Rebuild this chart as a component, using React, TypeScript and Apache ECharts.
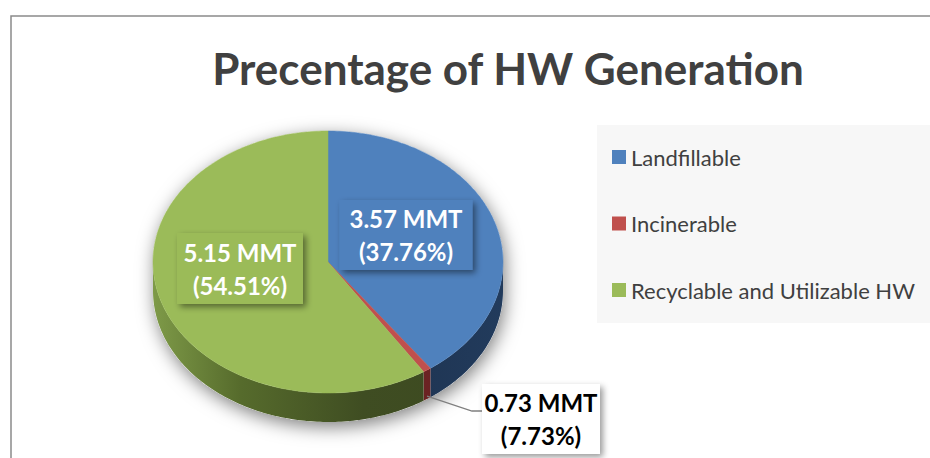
import React, { useEffect, useRef } from "react";
import * as echarts from "echarts";

// ---- data ----
const categories = ["Landfillable", "Incinerable", "Recyclable and Utilizable HW"];
// shares of the circle as drawn in the picture (percent)
const sliceShares = [40.05, 0.75, 59.2];
// values printed in the data labels
const amountsMMT = [3.57, 0.73, 5.15];
const labelPercents = [37.76, 7.73, 54.51];
const chartTitle = "Precentage of HW Generation";

const topColors = ["#4f81bd", "#c0504d", "#9bbb59"];
const sideColors = ["#1f3757", "#6b2323", "#4a5c26"];

const FONT = "Lato, 'Open Sans', sans-serif";

export default function App() {
  const ref = useRef<HTMLDivElement | null>(null);

  useEffect(() => {
    if (!ref.current) return;
    const chart = echarts.init(ref.current, undefined, { renderer: "svg" });

    const CX = 328, CY = 262, RX = 175, RY = 131, DEPTH = 29;
    const total = sliceShares.reduce((a, b) => a + b, 0);
    const starts: number[] = [];
    let acc = 0;
    sliceShares.forEach((v) => {
      starts.push((acc / total) * 360);
      acc += v;
    });

    const pt = (deg: number, dy = 0): number[] => {
      const t = (deg * Math.PI) / 180;
      return [CX + RX * Math.sin(t), CY - RY * Math.cos(t) + dy];
    };
    const arc = (a: number, b: number, dy = 0): number[][] => {
      const n = Math.max(2, Math.ceil(Math.abs(b - a) / 1) + 1);
      const out: number[][] = [];
      for (let i = 0; i < n; i++) out.push(pt(a + ((b - a) * i) / (n - 1), dy));
      return out;
    };

    // label layout (offsets of box centres from the pie centre)
    const insideBox = [
      { dx: 78, dy: -27, w: 133, h: 70 },
      null,
      { dx: -88, dy: 6.5, w: 126, h: 71 },
    ];

    const greenSideGrad = new echarts.graphic.LinearGradient(
      CX - RX, 0, CX + RX, 0,
      [
        { offset: 0, color: "#7e9a48" },
        { offset: 0.25, color: "#566b2c" },
        { offset: 0.6, color: "#3f4d22" },
        { offset: 1, color: "#3c4920" },
      ],
      true
    );
    const blueSideGrad = new echarts.graphic.LinearGradient(
      CX, 0, CX + RX, 0,
      [
        { offset: 0, color: "#1c304c" },
        { offset: 1, color: "#223b5c" },
      ],
      true
    );

    const renderItem = (params: any, api: any) => {
      const i = params.dataIndex;
      const v = api.value(0);
      const a = starts[i];
      const b = a + (v / total) * 360;
      const children: any[] = [];

      if (i === 0) {
        // soft shadow under the whole pie
        const outline = [...arc(-90, 90), ...arc(90, 270, DEPTH)];
        children.push({
          type: "polygon",
          z2: 0,
          shape: { points: outline },
          style: {
            fill: "#ffffff",
            shadowBlur: 18,
            shadowColor: "rgba(0,0,0,0.5)",
            shadowOffsetX: 2,
            shadowOffsetY: 5,
          },
        });
      }

      // side wall (front half only)
      const lo = Math.max(a, 90);
      const hi = Math.min(b, 270);
      if (hi > lo) {
        const pts = [...arc(lo, hi), ...arc(hi, lo, DEPTH)];
        children.push({
          type: "polygon",
          z2: 1,
          shape: { points: pts },
          style: {
            fill: i === 2 ? greenSideGrad : i === 0 ? blueSideGrad : sideColors[i],
          },
        });
      }

      // top face
      children.push({
        type: "polygon",
        z2: 2,
        shape: { points: [[CX, CY], ...arc(a, b)] },
        style: { fill: topColors[i], stroke: topColors[i], lineWidth: 0.5 },
      });

      const labelText = `${amountsMMT[i].toFixed(2)} MMT\n(${labelPercents[i].toFixed(2)}%)`;
      const box = insideBox[i];
      if (box) {
        const bx = CX + box.dx - box.w / 2;
        const by = CY + box.dy - box.h / 2;
        children.push({
          type: "rect",
          z2: 3,
          shape: { x: bx, y: by, width: box.w, height: box.h },
          style: {
            fill: topColors[i],
            shadowBlur: 6,
            shadowOffsetX: 3,
            shadowOffsetY: 3,
            shadowColor: "rgba(0,0,0,0.45)",
          },
        });
        children.push({
          type: "text",
          z2: 4,
          x: CX + box.dx,
          y: CY + box.dy,
          style: {
            text: labelText,
            fill: "#ffffff",
            font: `bold 24px ${FONT}`,
            lineHeight: 33,
            align: "center",
            verticalAlign: "middle",
          },
        });
      } else {
        // outside label with a leader line
        const m = (a + b) / 2;
        const s = pt(m, DEPTH * 0.9);
        const bx = 482, by = 384, bw = 118, bh = 70;
        const ly = by + 27;
        children.push({
          type: "polyline",
          z2: 3,
          shape: { points: [s, [bx - 10, ly], [bx, ly]] },
          style: { stroke: "#7f7f7f", lineWidth: 1.3, fill: null },
        });
        children.push({
          type: "rect",
          z2: 3,
          shape: { x: bx, y: by, width: bw, height: bh },
          style: {
            fill: "#ffffff",
            shadowBlur: 6,
            shadowOffsetX: 3,
            shadowOffsetY: 3,
            shadowColor: "rgba(0,0,0,0.4)",
          },
        });
        children.push({
          type: "text",
          z2: 4,
          x: bx + bw / 2,
          y: by + bh / 2,
          style: {
            text: labelText,
            fill: "#000000",
            font: `bold 24px ${FONT}`,
            lineHeight: 33,
            align: "center",
            verticalAlign: "middle",
          },
        });
      }

      return { type: "group", children };
    };

    const legendItems: any[] = [];
    categories.forEach((c, i) => {
      const y = 157 + i * 66.5;
      legendItems.push({
        type: "rect",
        shape: { x: 612, y: y - 7, width: 14, height: 14 },
        style: { fill: topColors[i] },
      });
      legendItems.push({
        type: "text",
        x: 631,
        y,
        style: {
          text: c,
          fill: "#404040",
          font: `22px ${FONT}`,
          verticalAlign: "middle",
          align: "left",
        },
      });
    });

    chart.setOption({
      animation: false,
      backgroundColor: "#ffffff",
      graphic: [
        {
          type: "rect",
          z: -1,
          shape: { x: 11, y: 16, width: 1000, height: 1000 },
          style: { fill: "none", stroke: "#8a8a8a", lineWidth: 1.5 },
        },
        {
          type: "text",
          x: 508,
          y: 68,
          style: {
            text: chartTitle,
            fill: "#404040",
            font: `bold 44px ${FONT}`,
            align: "center",
            verticalAlign: "middle",
          },
        },
        {
          type: "rect",
          shape: { x: 597, y: 125, width: 340, height: 198 },
          style: { fill: "#f7f7f7" },
        },
        ...legendItems,
      ],
      series: [
        {
          type: "custom",
          coordinateSystem: "none",
          renderItem,
          data: sliceShares.map((v, i) => ({ name: categories[i], value: v })),
        },
      ],
    });

    return () => chart.dispose();
  }, []);

  return (
    <div
      ref={ref}
      style={{ position: "absolute", left: 0, top: 0, width: 930, height: 458 }}
    />
  );
}
